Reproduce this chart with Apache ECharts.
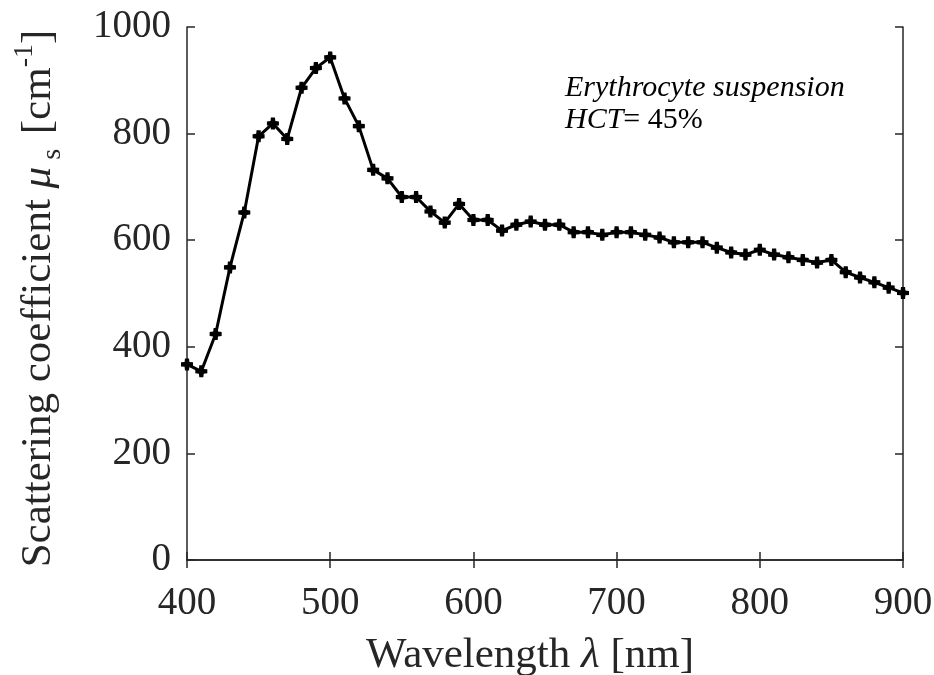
<!DOCTYPE html>
<html><head><meta charset="utf-8">
<script src="https://cdn.jsdelivr.net/npm/echarts@6/dist/echarts.min.js"></script>
<style>html,body{margin:0;padding:0;background:#fff}#c{width:934px;height:675px}</style>
</head><body><div id="c"></div>
<script>
const wavelengths = [400,410,420,430,440,450,460,470,480,490,500,510,520,530,540,550,560,570,580,590,600,610,620,630,640,650,660,670,680,690,700,710,720,730,740,750,760,770,780,790,800,810,820,830,840,850,860,870,880,890,900];
const scattering = [367,354,424,549,652,795,819,790,886,923,943,866,814,732,716,681,681,654,633,668,638,638,618,629,635,629,629,615,615,610,615,615,610,605,596,596,596,586,577,573,582,573,568,563,558,563,540,530,521,511,501];
const xTicks = [400,500,600,700,800,900];
const yTicks = [0,200,400,600,800,1000];
const note1 = 'Erythrocyte suspension';
const note2a = 'HCT';
const note2b = '= 45%';

const FONT = '"Liberation Serif","DejaVu Serif",serif';
const TF = 43;
const chart = echarts.init(document.getElementById('c'));
const axisCommon = {
  axisLine:{show:true,lineStyle:{color:'#262626',width:1.5}},
  axisTick:{show:true,inside:true,length:8,lineStyle:{color:'#262626',width:1.5}},
  splitLine:{show:false}
};
chart.setOption({
  animation:false,
  backgroundColor:'#fff',
  grid:{left:187,right:31,top:27,bottom:115,containLabel:false,outerBoundsMode:'none'},
  xAxis:[
    Object.assign({type:'value',min:400,max:900,interval:100,position:'bottom',
      axisLabel:{fontFamily:FONT,fontSize:39,color:'#262626',margin:24,
        formatter:v=>xTicks.includes(v)?String(v):''},
      name:'{t|Wavelength }{i|λ}{t| [nm]}',nameLocation:'middle',nameGap:74,
      nameTextStyle:{padding:[0,30,0,0],rich:{t:{fontFamily:FONT,fontSize:TF,color:'#262626'},i:{fontFamily:FONT,fontStyle:'italic',fontSize:TF,color:'#262626'}}}
    },axisCommon),
    Object.assign({type:'value',min:400,max:900,interval:100,position:'top',axisLabel:{show:false}},axisCommon)
  ],
  yAxis:[
    Object.assign({type:'value',min:0,max:1000,interval:200,position:'left',
      axisLabel:{fontFamily:FONT,fontSize:39,color:'#262626',margin:16,
        formatter:v=>yTicks.includes(v)?String(v):''},
      name:'{t|Scattering coefficient }{i|μ}{sub| s}{t| [cm}{sup|-1}{t|]}',nameLocation:'middle',nameGap:120,nameRotate:90,
      nameTextStyle:{padding:[0,10,0,0],rich:{
        t:{fontFamily:FONT,fontSize:TF,color:'#262626',lineHeight:56},
        i:{fontFamily:FONT,fontStyle:'italic',fontSize:TF,color:'#262626',lineHeight:56},
        sub:{fontFamily:FONT,fontSize:28,color:'#262626',verticalAlign:'bottom',lineHeight:56,padding:[0,4,0,0]},
        sup:{fontFamily:FONT,fontSize:28,color:'#262626',verticalAlign:'top',lineHeight:56}
      }}
    },axisCommon),
    Object.assign({type:'value',min:0,max:1000,interval:200,position:'right',axisLabel:{show:false}},axisCommon)
  ],
  series:[{
    type:'line',
    data:wavelengths.map((w,i)=>[w,scattering[i]]),
    lineStyle:{color:'#000',width:3},
    itemStyle:{color:'#000'},
    symbol:'path://M3.3,0 L6.7,0 L7,3 L10,3.3 L10,6.7 L7,7 L6.7,10 L3.3,10 L3,7 L0,6.7 L0,3.3 L3,3 Z',
    symbolSize:12,
    showSymbol:true
  }],
  graphic:[
    {type:'text',left:565,top:73,style:{text:note1,font:'italic 30px '+FONT,fill:'#000'}},
    {type:'text',left:565,top:105,style:{text:'{i|'+note2a+'}{t|'+note2b+'}',
      rich:{i:{font:'italic 30px '+FONT,fill:'#000'},t:{font:'30px '+FONT,fill:'#000'}}}}
  ]
});
</script></body></html>
